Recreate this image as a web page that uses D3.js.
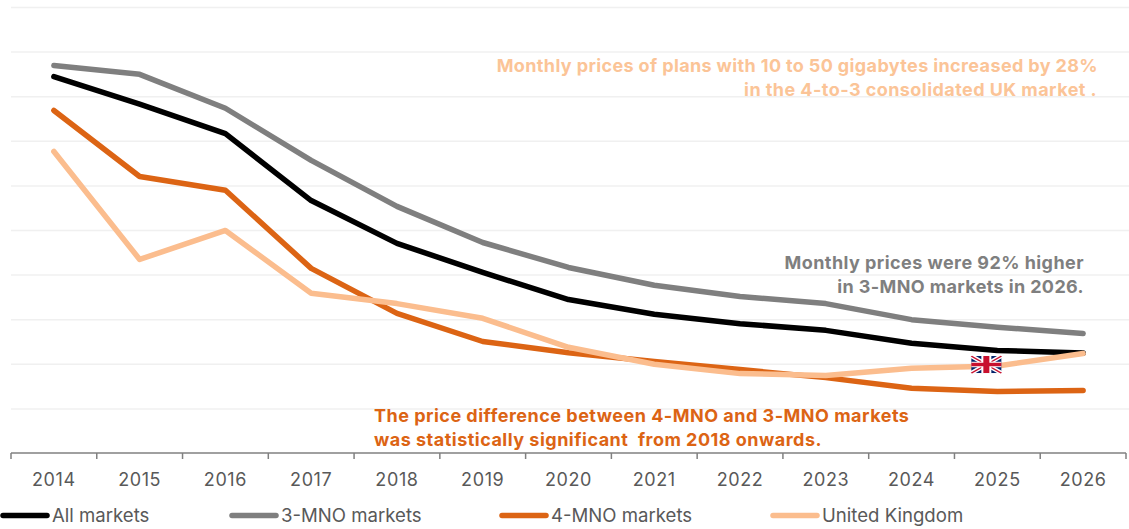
<!DOCTYPE html>
<html><head><meta charset="utf-8">
<script src="https://cdn.jsdelivr.net/npm/d3@7/dist/d3.min.js"></script>
<style>html,body{margin:0;padding:0;background:#fff}svg{display:block;font-family:Inter,"Noto Sans",sans-serif}</style>
</head><body><svg id="c" width="1129" height="529"></svg>
<script>
const years=["2014","2015","2016","2017","2018","2019","2020","2021","2022","2023","2024","2025","2026"];
const allMarkets=[84.4,78.2,71.6,56.6,47,40.5,34.4,31.1,29,27.5,24.6,23,22.4];
const threeMno=[86.9,84.9,77.3,65.6,55.3,47.2,41.6,37.6,35.1,33.5,29.9,28.2,26.8];
const fourMno=[76.8,62,58.9,41.4,31.3,25,22.5,20.5,18.7,16.9,14.5,13.8,14];
const unitedKingdom=[67.6,43.4,49.9,35.8,33.5,30.2,23.7,19.9,17.8,17.4,19,19.5,22.3];
const gridValues=[10,20,30,40,50,60,70,80,90,100];
const seriesNames=["All markets","3-MNO markets","4-MNO markets","United Kingdom"];
const seriesColors=["#000000","#7f7f7f","#dc6414","#fbbd8e"];
const seriesValues=[allMarkets,threeMno,fourMno,unitedKingdom];
const legendX=[0,229,499,770];
const svg=d3.select("#c");
const x=d3.scaleBand().domain(years).range([11,1126]);
const y=d3.scaleLinear().domain([0,100]).range([453,7]);
svg.append("g").selectAll("line").data(gridValues).join("line")
 .attr("x1",11).attr("x2",1129).attr("y1",d=>y(d)+0.5).attr("y2",d=>y(d)+0.5)
 .attr("stroke","#f0f0f0").attr("stroke-width",1.5);
const ax=svg.append("g").attr("transform","translate(0,453)")
 .call(d3.axisBottom(x).tickSize(0).tickPadding(20));
ax.select(".domain").attr("stroke","#808080").attr("stroke-width",1.5).attr("d","M11,0H1126");
ax.selectAll("text").attr("font-size",18).attr("fill","#595959").attr("font-family","Inter,sans-serif").attr("letter-spacing",0.6);
ax.append("g").selectAll("line").data(d3.range(years.length+1)).join("line")
 .attr("x1",i=>11+i*x.step()).attr("x2",i=>11+i*x.step()).attr("y1",0).attr("y2",6)
 .attr("stroke","#808080").attr("stroke-width",1.5);
const line=d3.line().x((d,i)=>x(years[i])+x.bandwidth()/2).y(d=>y(d));
svg.append("g").selectAll("path").data(seriesValues).join("path")
 .attr("d",line).attr("fill","none").attr("stroke",(d,i)=>seriesColors[i])
 .attr("stroke-width",5.5).attr("stroke-linecap","round").attr("stroke-linejoin","round");
const lg=svg.append("g").selectAll("g").data(seriesNames).join("g").attr("transform",(d,i)=>`translate(${legendX[i]},515.5)`);
lg.append("line").attr("x1",3).attr("x2",47).attr("stroke",(d,i)=>seriesColors[i]).attr("stroke-width",5.5).attr("stroke-linecap","round");
lg.append("text").attr("x",52).attr("y",6.5).attr("font-size",18.6).attr("fill","#595959").text(d=>d);
const notes=[
 {t:"Monthly prices of plans with 10 to 50 gigabytes increased by 28%",x:1098,y:71.5,a:"end",c:"#fbc497",s:0.37},
 {t:"in the 4-to-3 consolidated UK market .",x:1097,y:95.5,a:"end",c:"#fbc497",s:0.44},
 {t:"Monthly prices were 92% higher",x:1084,y:268.5,a:"end",c:"#7f7f7f",s:0.44},
 {t:"in 3-MNO markets in 2026.",x:1084,y:292.5,a:"end",c:"#7f7f7f",s:0.37},
 {t:"The price difference between 4-MNO and 3-MNO markets",x:374,y:422,a:"start",c:"#dc6414",s:0.49},
 {t:"was statistically significant  from 2018 onwards.",x:374,y:446,a:"start",c:"#dc6414",s:0.49}];
svg.append("g").selectAll("text").data(notes).join("text")
 .attr("x",d=>d.x).attr("y",d=>d.y).attr("text-anchor",d=>d.a).attr("fill",d=>d.c)
 .attr("font-size",18).attr("font-weight",700).attr("letter-spacing",d=>d.s).style("white-space","pre").text(d=>d.t);
// UK flag, placed just left of the 2025 point as in the reference
const f=svg.append("g").attr("transform",`translate(${x("2025")+x.bandwidth()/2-26},${y(unitedKingdom[11])-10}) scale(0.5,0.2833)`);
f.append("rect").attr("width",60).attr("height",60).attr("fill","#012169");
f.append("path").attr("d","M0,0L60,60M60,0L0,60").attr("stroke","#fff").attr("stroke-width",12);
f.append("path").attr("d","M0,0L60,60M60,0L0,60").attr("stroke","#c8102e").attr("stroke-width",4);
f.append("path").attr("d","M30,0V60M0,30H60").attr("stroke","#fff").attr("stroke-width",20);
f.append("path").attr("d","M30,0V60M0,30H60").attr("stroke","#c8102e").attr("stroke-width",12);
</script></body></html>
